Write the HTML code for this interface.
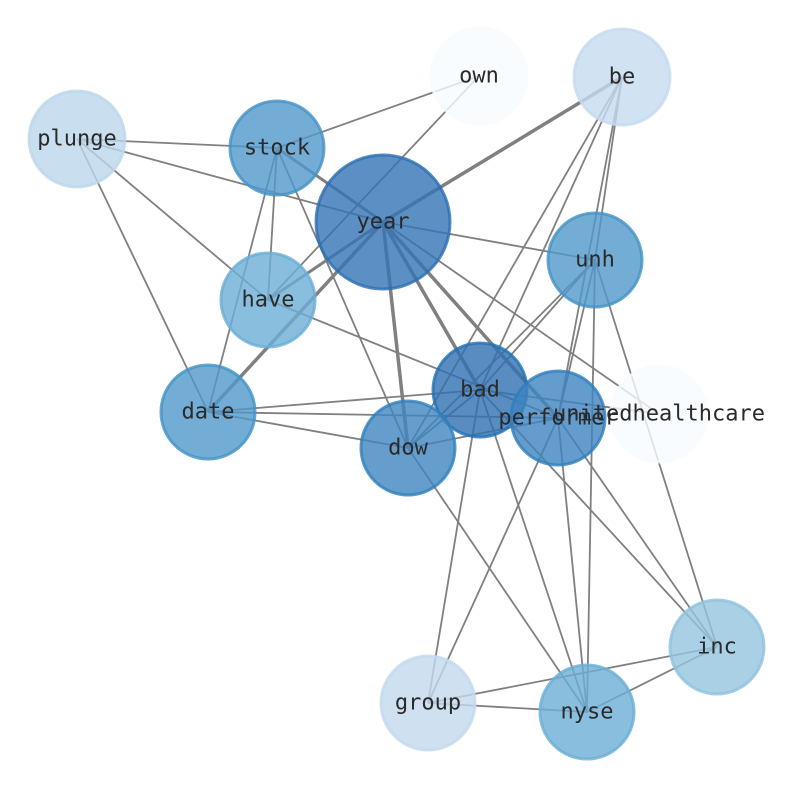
<!DOCTYPE html>
<html><head><style>body{margin:0;background:#fff}svg{display:block}</style></head><body>
<svg width="794" height="790" viewBox="0 0 794 790" xmlns="http://www.w3.org/2000/svg">
<g stroke="#808080" stroke-width="1.8" fill="none">
<line x1="77" y1="139" x2="277" y2="148"/>
<line x1="77" y1="139" x2="383" y2="222"/>
<line x1="77" y1="139" x2="268" y2="300"/>
<line x1="77" y1="139" x2="208" y2="412"/>
<line x1="277" y1="148" x2="479" y2="76"/>
<line x1="277" y1="148" x2="383" y2="222" stroke-width="3"/>
<line x1="277" y1="148" x2="268" y2="300"/>
<line x1="277" y1="148" x2="208" y2="412"/>
<line x1="277" y1="148" x2="408" y2="448"/>
<line x1="479" y1="76" x2="268" y2="300"/>
<line x1="622" y1="77" x2="383" y2="222" stroke-width="3.5"/>
<line x1="622" y1="77" x2="480" y2="390"/>
<line x1="622" y1="77" x2="408" y2="448"/>
<line x1="622" y1="77" x2="558" y2="418"/>
<line x1="622" y1="77" x2="595" y2="260"/>
<line x1="383" y1="222" x2="268" y2="300" stroke-width="3"/>
<line x1="383" y1="222" x2="208" y2="412" stroke-width="3.5"/>
<line x1="383" y1="222" x2="595" y2="260"/>
<line x1="383" y1="222" x2="408" y2="448" stroke-width="3.5"/>
<line x1="383" y1="222" x2="480" y2="390" stroke-width="3.5"/>
<line x1="383" y1="222" x2="558" y2="418" stroke-width="3.5"/>
<line x1="383" y1="222" x2="659" y2="414"/>
<line x1="268" y1="300" x2="558" y2="418"/>
<line x1="208" y1="412" x2="480" y2="390"/>
<line x1="208" y1="412" x2="558" y2="418"/>
<line x1="208" y1="412" x2="408" y2="448"/>
<line x1="408" y1="448" x2="595" y2="260"/>
<line x1="408" y1="448" x2="480" y2="390"/>
<line x1="408" y1="448" x2="558" y2="418"/>
<line x1="408" y1="448" x2="587" y2="712"/>
<line x1="480" y1="390" x2="595" y2="260"/>
<line x1="480" y1="390" x2="659" y2="414"/>
<line x1="480" y1="390" x2="428" y2="703"/>
<line x1="480" y1="390" x2="587" y2="712"/>
<line x1="480" y1="390" x2="717" y2="647"/>
<line x1="558" y1="418" x2="595" y2="260"/>
<line x1="558" y1="418" x2="428" y2="703"/>
<line x1="558" y1="418" x2="587" y2="712"/>
<line x1="558" y1="418" x2="717" y2="647"/>
<line x1="595" y1="260" x2="587" y2="712"/>
<line x1="595" y1="260" x2="717" y2="647"/>
<line x1="717" y1="647" x2="428" y2="703"/>
<line x1="717" y1="647" x2="587" y2="712"/>
<line x1="428" y1="703" x2="587" y2="712"/>
</g>
<g stroke-width="3" fill-opacity="0.8" stroke-opacity="0.8">
<circle cx="479" cy="76" r="48" fill="#f7fbff" stroke="#f7fbff"/>
<circle cx="622" cy="77" r="48" fill="#c6dbef" stroke="#c6dbef"/>
<circle cx="77" cy="139" r="48" fill="#bcd7eb" stroke="#bcd7eb"/>
<circle cx="277" cy="148" r="47" fill="#5099cb" stroke="#4292c6"/>
<circle cx="383" cy="222" r="67" fill="#3373b5" stroke="#2a6eb2"/>
<circle cx="595" cy="260" r="47" fill="#5099cb" stroke="#4292c6"/>
<circle cx="268" cy="300" r="47" fill="#6caed6" stroke="#6aaed6"/>
<circle cx="208" cy="412" r="47" fill="#5099cb" stroke="#4292c6"/>
<circle cx="480" cy="390" r="47" fill="#2f6fb2" stroke="#2171b5"/>
<circle cx="558" cy="418" r="47" fill="#3d83c0" stroke="#2e7ebc"/>
<circle cx="659" cy="414" r="48" fill="#f7fbff" stroke="#f7fbff"/>
<circle cx="408" cy="448" r="47" fill="#3f85c1" stroke="#3080bd"/>
<circle cx="717" cy="647" r="47" fill="#94c4df" stroke="#8fc2de"/>
<circle cx="428" cy="703" r="47" fill="#c3daee" stroke="#c3daee"/>
<circle cx="587" cy="712" r="47" fill="#6caed6" stroke="#6aaed6"/>
</g>
<g font-family="'DejaVu Sans Mono','Liberation Mono',monospace" font-size="22" fill="#2a2a2a" text-anchor="middle" dominant-baseline="central">
<text x="479" y="76">own</text>
<text x="622" y="77">be</text>
<text x="77" y="139">plunge</text>
<text x="277" y="148">stock</text>
<text x="383" y="222">year</text>
<text x="595" y="260">unh</text>
<text x="268" y="300">have</text>
<text x="208" y="412">date</text>
<text x="480" y="390">bad</text>
<text x="558" y="418">performer</text>
<text x="659" y="414">unitedhealthcare</text>
<text x="408" y="448">dow</text>
<text x="717" y="647">inc</text>
<text x="428" y="703">group</text>
<text x="587" y="712">nyse</text>
</g>
</svg>
</body></html>
